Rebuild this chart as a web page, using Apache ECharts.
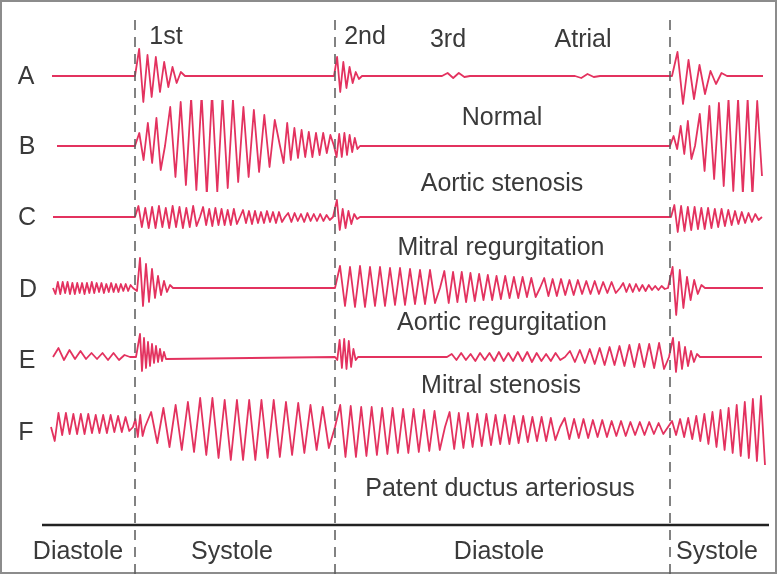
<!DOCTYPE html>
<html>
<head>
<meta charset="utf-8">
<script src="https://cdn.jsdelivr.net/npm/echarts@6/dist/echarts.min.js"></script>
<style>
html,body{margin:0;padding:0;background:#fff;}
#chart{width:777px;height:574px;}
</style>
</head>
<body>
<div id="chart"></div>
<script>
// ---------- DATA (time axis: units from the first heart sound; amplitude units) ----------
const rowLetters = ['A', 'B', 'C', 'D', 'E', 'F'];
const soundLabels = ['1st', '2nd', '3rd', 'Atrial'];
const conditionLabels = ['Normal', 'Aortic stenosis', 'Mitral regurgitation', 'Aortic regurgitation', 'Mitral stenosis', 'Patent ductus arteriosus'];
const phaseLabels = ['Diastole', 'Systole', 'Diastole', 'Systole'];
const phaseMarks = [0, 200, 535]; // S1, S2, next S1

// each event: [start, end, peak amplitudes (alternating), openEnd]
const traceRangeA = [-83, 628];
const eventsA = [
  [0, 50, [27, -26, 21, -21, 19, -16, 14, -11, 9, -7, 4]],
  [199, 227, [19, -16, 14, -12, 9, -7, 4, -3]],
  [307, 335, [3, -2, 3, -1]],
  [440, 465, [-2, 2, -1]],
  [537, 592, [24, -28, 16, -23, 11, -18, 5, -8, 3]]
];
const traceRangeB = [-78, 627];
const eventsB = [
  [0, 30, [13, -14, 23, -17, 28, -24]],
  [30, 145, [39, -31, 44, -39, 48, -44, 51, -49, 53, -46, 48, -42, 46, -36, 39, -31, 36, -26, 31, -21, 26]],
  [145, 199, [-17, 23, -14, 18, -12, 16, -11, 14, -11, 13, -9, 13, -7, 11]],
  [199, 225, [-11, 12, -11, 13, -9, 11, -6, 8, -3]],
  [535, 560, [10, -3, 20, -8, 25, -13]],
  [560, 627, [32, -25, 40, -33, 43, -40, 47, -45, 47, -48, 47, -50, 45, -30], true]
];
const traceRangeC = [-82, 627];
const eventsC = [
  [0, 65, [11, -10, 9, -11, 10, -11, 11, -10, 9, -11, 11, -10, 10, -11, 9, -10, 11, -9]],
  [65, 105, [10, -8, 8, -9, 9, -8, 8, -8, 7, -8, 8, -7]],
  [105, 150, [7, -6, 6, -7, 6, -6, 5, -6, 6, -5, 5, -6, 5, -5]],
  [150, 198, [4, -5, 4, -4, 3, -5, 4, -4, 3, -4, 3, -4, 2, -3]],
  [199, 225, [17, -13, 8, -11, 6, -7, 3, -2]],
  [536, 627, [12, -15, 11, -14, 10, -13, 10, -12, 9, -12, 9, -11, 8, -10, 8, -9, 7, -8, 6, -7, 5, -6, 4, -5, 3, -3]]
];
const traceRangeD = [-82, 628];
const eventsD = [
  [-82, -2, [-6, 6, -6, 6, -5, 6, -6, 5, -6, 5, -5, 5, -6, 5, -5, 6, -5, 5, -4, 5, -5, 4, -4, 5, -4, 4, -4, 4, -3, 4, -3, 3]],
  [-1, 38, [-3, 30, -18, 24, -14, 19, -10, 12, -7, 7, -4, 3]],
  [200, 305, [22, -18, 21, -19, 22, -19, 21, -18, 21, -18, 20, -17, 20, -17, 19, -16, 18, -16, 18, -15]],
  [305, 405, [17, -15, 16, -14, 16, -14, 15, -13, 14, -12, 13, -12, 12, -11, 12, -10, 11, -10, 11, -9, 10, -9]],
  [405, 485, [10, -8, 9, -8, 9, -7, 8, -7, 8, -6, 7, -6, 7, -6, 6, -5, 6, -5]],
  [485, 533, [5, -4, 4, -4, 4, -3, 3, -3, 3, -2, 2, -2, 2, -1]],
  [534, 570, [21, -27, 18, -20, 11, -12, 8, -6, 3]]
];
const traceRangeE = [-82, 627];
const eventsE = [
  [-82, -5, [9, -3, 7, -2, 6, -2, 4, -2, 4, -3, 4, -3, 2]],
  [1, 33, [-2, 23, -14, 19, -11, 15, -9, 13, -6, 11, -5, 8, -4, 5, -2]],
  [200, 223, [-3, 17, -11, 18, -12, 16, -10, 8, -3]],
  [312, 430, [3, -3, 4, -3, 3, -4, 4, -3, 4, -4, 5, -4, 4, -4, 5, -4, 5, -5, 4, -4, 3, -4, 4, -3]],
  [430, 534, [6, -5, 7, -6, 8, -7, 9, -8, 10, -8, 11, -9, 12, -10, 13, -10, 13, -11, 14, -12]],
  [535, 565, [19, -15, 15, -12, 10, -9, 6, -5, 3]]
];
const traceRangeF = [-84, 630];
const eventsF = [
  [-84, -2, [-14, 14, -8, 14, -7, 13, -7, 13, -7, 13, -6, 12, -6, 12, -6, 12, -5, 11, -5, 10, -4]],
  [-2, 10, [8, -10, 12, -9]],
  [10, 200, [15, -16, 19, -20, 22, -23, 25, -25, 29, -28, 29, -31, 27, -33, 27, -33, 27, -33, 27, -31, 27, -30, 25, -28, 24, -26, 22, -23, 20, -21]],
  [200, 310, [22, -30, 21, -30, 20, -29, 20, -28, 19, -27, 19, -26, 18, -26, 18, -25, 17, -24, 16, -23]],
  [310, 425, [15, -22, 14, -21, 14, -20, 13, -19, 13, -18, 12, -17, 12, -17, 11, -16, 11, -15, 10, -14, 10, -14, 9, -13]],
  [425, 533, [9, -12, 8, -11, 8, -11, 7, -10, 7, -10, 6, -9, 6, -9, 5, -8, 5, -8, 5, -7, 4, -7]],
  [533, 630, [6, -8, 8, -10, 9, -12, 11, -14, 13, -17, 15, -20, 17, -23, 19, -26, 22, -29, 25, -31, 28, -34, 31, -38], true]
];

// ---------- BUILD ----------
function buildTrace(range, events) {
  const pts = [[range[0], 0]];
  events.forEach(function (ev) {
    const x0 = ev[0], x1 = ev[1], amps = ev[2], open = !!ev[3];
    const n = amps.length;
    const step = open ? (x1 - x0) / n : (x1 - x0) / (n + 1);
    pts.push([x0, 0]);
    amps.forEach(function (a, i) { pts.push([x0 + step * (i + 1), a]); });
    if (!open) pts.push([x1, 0]);
  });
  if (pts[pts.length - 1][0] < range[1]) pts.push([range[1], 0]);
  return pts;
}

const traces = [
  buildTrace(traceRangeA, eventsA),
  buildTrace(traceRangeB, eventsB),
  buildTrace(traceRangeC, eventsC),
  buildTrace(traceRangeD, eventsD),
  buildTrace(traceRangeE, eventsE),
  buildTrace(traceRangeF, eventsF)
];

// ---------- LAYOUT / STYLE ----------
const W = 777, H = 574;
const X_MIN = -135, X_MAX = 642;
const rowBaselines = [76, 146, 217, 288, 357, 427];
const HALF = 45;
const RED = '#e3325f';
const TEXT = '#3a3a3a';
const FONT = '25px "Liberation Sans", Arial, Helvetica, sans-serif';

const grids = [], xAxes = [], yAxes = [], series = [];
rowBaselines.forEach(function (b, i) {
  grids.push({ left: 0, right: 0, top: b - HALF, height: HALF * 2 });
  xAxes.push({ type: 'value', gridIndex: i, min: X_MIN, max: X_MAX, show: false });
  yAxes.push({ type: 'value', gridIndex: i, min: -HALF, max: HALF, show: false });
  series.push({
    type: 'line', xAxisIndex: i, yAxisIndex: i, data: traces[i],
    symbol: 'none', showSymbol: false, smooth: false, silent: true,
    lineStyle: { color: RED, width: 1.8, join: 'round' }
  });
});
// overlay grid for phase marks
grids.push({ left: 0, right: 0, top: 18, bottom: 0 });
xAxes.push({ type: 'value', gridIndex: 6, min: X_MIN, max: X_MAX, show: false });
yAxes.push({ type: 'value', gridIndex: 6, min: 0, max: 1, show: false });
series.push({
  type: 'line', xAxisIndex: 6, yAxisIndex: 6, data: [], silent: true,
  markLine: {
    silent: true, symbol: ['none', 'none'], label: { show: false },
    lineStyle: { color: '#5a5a5a', width: 1.5, type: [10, 7] },
    data: phaseMarks.map(function (v) { return { xAxis: v }; })
  }
});

function txt(s, x, y) {
  return { type: 'text', x: x, y: y, silent: true,
    style: { text: s, font: FONT, fill: TEXT, align: 'center', verticalAlign: 'middle' } };
}
const letterPos = [[26, 77], [27, 147], [27, 218], [28, 290], [27, 361], [26, 433]];
const soundPos = [[166, 37], [365, 37], [448, 40], [583, 40]];
const condPos = [[502, 118], [502, 184], [501, 248], [502, 323], [501, 386], [500, 489]];
const phasePos = [[78, 552], [232, 552], [499, 552], [717, 552]];

const graphics = [];
rowLetters.forEach(function (s, i) { graphics.push(txt(s, letterPos[i][0], letterPos[i][1])); });
soundLabels.forEach(function (s, i) { graphics.push(txt(s, soundPos[i][0], soundPos[i][1])); });
conditionLabels.forEach(function (s, i) { graphics.push(txt(s, condPos[i][0], condPos[i][1])); });
phaseLabels.forEach(function (s, i) { graphics.push(txt(s, phasePos[i][0], phasePos[i][1])); });
graphics.push({ type: 'line', silent: true, shape: { x1: 42, y1: 525, x2: 769, y2: 525 },
  style: { stroke: '#222', lineWidth: 2.5 } });
graphics.push({ type: 'rect', silent: true, shape: { x: 1, y: 1, width: W - 2, height: H - 2 },
  style: { fill: 'none', stroke: '#8c8c8c', lineWidth: 2 } });

const chart = echarts.init(document.getElementById('chart'), null, { renderer: 'canvas' });
chart.setOption({
  backgroundColor: '#ffffff',
  animation: false,
  grid: grids,
  xAxis: xAxes,
  yAxis: yAxes,
  series: series,
  graphic: { elements: graphics }
});
</script>
</body>
</html>
